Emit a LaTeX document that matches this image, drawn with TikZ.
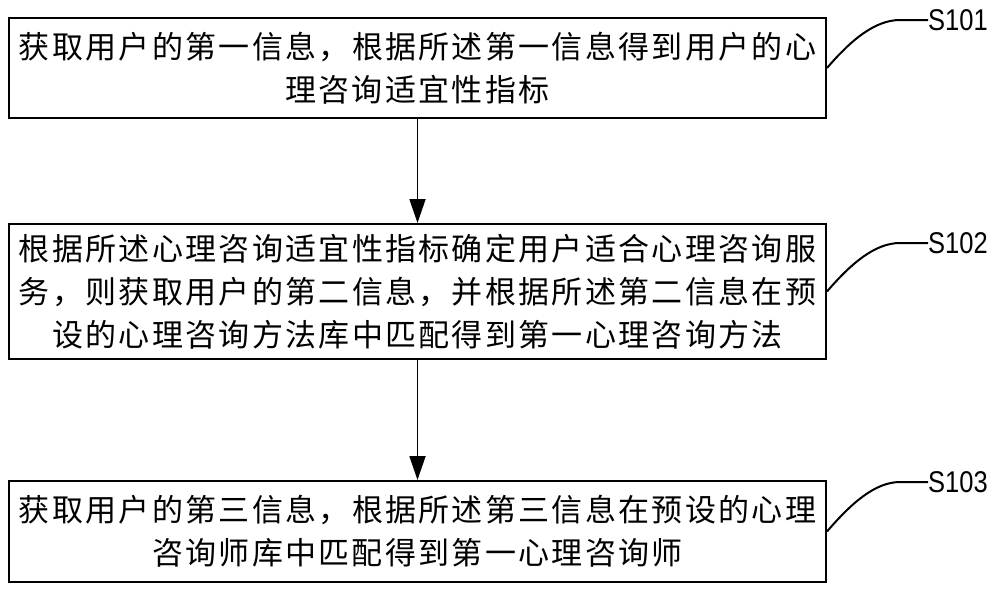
\documentclass[tikz,border=0pt]{standalone}
\usepackage{fontspec}
\newfontfamily\cjk[LetterSpace=7.5]{Noto Sans CJK SC}
\newfontfamily\labfont{Liberation Sans}
\usetikzlibrary{arrows.meta,calc}
\tikzset{
  stepbox/.style={draw=black, line width=2pt, minimum width=817pt, inner sep=0pt,
    align=center, font=\cjk\fontsize{31}{43}\selectfont},
  steplabel/.style={anchor=west, inner sep=0pt, font=\labfont\fontsize{30}{30}\selectfont},
  flow/.style={line width=1.8pt, -{Triangle[length=24pt,width=16pt]}},
  leader/.style={line width=2pt}
}
\newcommand{\lbl}[1]{\scalebox{0.85}[1]{#1}}
\begin{document}
\begin{tikzpicture}[x=1pt,y=-1pt]
\useasboundingbox (0,0) rectangle (1000,590);
\node[stepbox, minimum height=100pt] (b1) at (417.5,68)
  {获取用户的第一信息，根据所述第一信息得到用户的心\\理咨询适宜性指标};
\node[stepbox, minimum height=135pt] (b2) at (417.5,291.5)
  {根据所述心理咨询适宜性指标确定用户适合心理咨询服\\务，则获取用户的第二信息，并根据所述第二信息在预\\设的心理咨询方法库中匹配得到第一心理咨询方法};
\node[stepbox, minimum height=101pt] (b3) at (417.5,531.5)
  {获取用户的第三信息，根据所述第三信息在预设的心理\\咨询师库中匹配得到第一心理咨询师};
\node[steplabel] (s1) at (928,20) {\lbl{S101}};
\node[steplabel] (s2) at (928,243) {\lbl{S102}};
\node[steplabel] (s3) at (928,482) {\lbl{S103}};
\draw[flow] (b1.south) -- (b2.north);
\draw[flow] (b2.south) -- (b3.north);
\draw[leader] (b1.east) .. controls +(24,-28) and +(-25,0) .. ($(s1.west)+(-28,0)$) -- (s1.west);
\draw[leader] (b2.east) .. controls +(24,-28) and +(-25,0) .. ($(s2.west)+(-28,0)$) -- (s2.west);
\draw[leader] (b3.east) .. controls +(24,-28) and +(-25,0) .. ($(s3.west)+(-28,0)$) -- (s3.west);
\end{tikzpicture}
\end{document}
